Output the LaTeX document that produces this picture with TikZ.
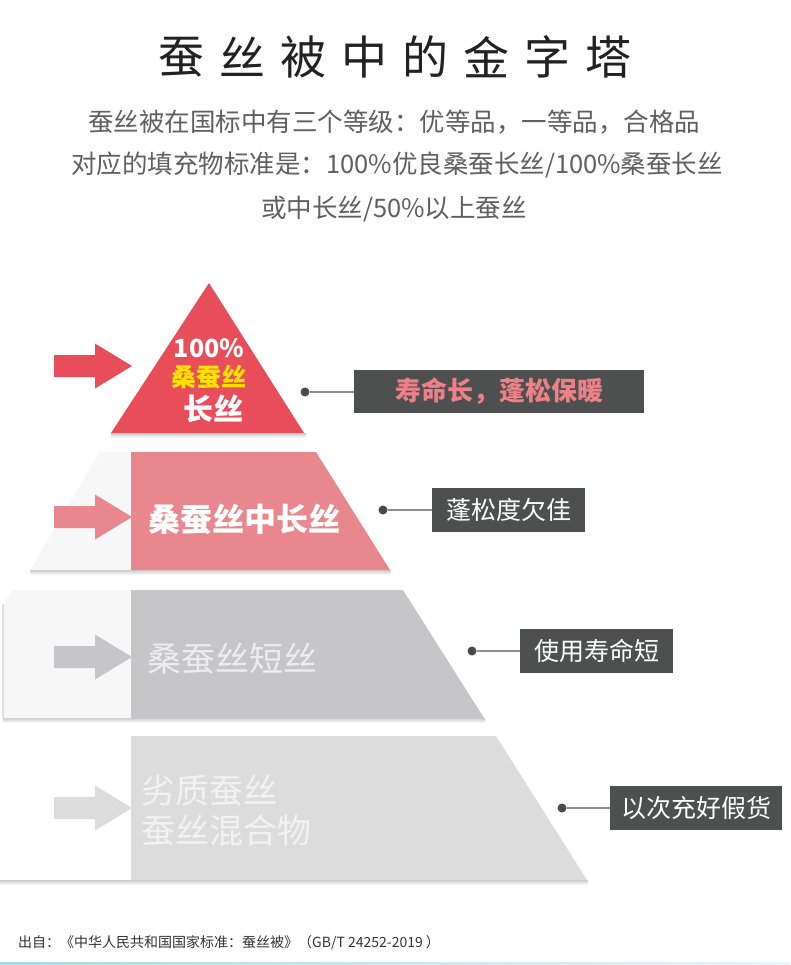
\documentclass[tikz,border=0pt]{standalone}
\usepackage{fontspec}
\setmainfont{Noto Sans CJK SC}
\definecolor{titlecol}{HTML}{222222}
\definecolor{subcol}{HTML}{606060}
\definecolor{redtri}{HTML}{E84E5A}
\definecolor{pinklev}{HTML}{E8878D}
\definecolor{graylev}{HTML}{C6C6C8}
\definecolor{lgraylev}{HTML}{DCDCDC}
\definecolor{lightbg}{HTML}{F7F7F7}
\definecolor{boxgray}{HTML}{4E4F4F}
\definecolor{dotgray}{HTML}{4A4A4A}
\definecolor{linegray}{HTML}{8E8E8E}
\definecolor{pinktext}{HTML}{EE8088}
\definecolor{yellowtext}{HTML}{FFE000}
\definecolor{barblue}{HTML}{A9D9E8}
\definecolor{foot}{HTML}{333333}
\newcommand\pyrarrow[2]{\fill[#1] (54,{#2-11}) -- (95,{#2-11}) -- (95,{#2-22.5}) -- (132,#2) -- (95,{#2+22.5}) -- (95,{#2+11}) -- (54,{#2+11}) -- cycle;}
\newcommand\pshadow[3]{\shade[top color=black!20, bottom color=white] (#1,#3) rectangle (#2,{#3+5});}
\begin{document}
\begin{tikzpicture}[x=1pt,y=-1pt,
  box/.style={fill=boxgray, inner sep=0pt, minimum height=43pt, text=white, font=\fontsize{25}{28}\selectfont},
  dotnode/.style={circle, fill=dotgray, inner sep=0pt, minimum size=9pt},
  conn/.style={draw=linegray, line width=1.6pt},
  levtext/.style={inner sep=0pt, anchor=west, align=left},
  subtxt/.style={text=subcol, font=\fontsize{25.5}{30}\selectfont, inner sep=0pt}]
\useasboundingbox (0,0) rectangle (790,965);
\fill[white] (0,0) rectangle (790,965);
% title
\foreach \c [count=\i from 0] in {蚕,丝,被,中,的,金,字,塔}
  \node[text=titlecol, font=\fontsize{46}{50}\selectfont, inner sep=0pt] (t\i) at ({181+61.1*\i},57) {\c};
% subtitle
\node[subtxt] (s1) at (394,122) {蚕丝被在国标中有三个等级：优等品，一等品，合格品};
\node[subtxt] (s2) at (397,165) {对应的填充物标准是：100\%优良桑蚕长丝/100\%桑蚕长丝};
\node[subtxt] (s3) at (394,209) {或中长丝/50\%以上蚕丝};
% level 1
\pshadow{111}{306}{433}
\fill[redtri] (209,283) -- (304,433) -- (111,433) -- cycle;
\pyrarrow{redtri}{366}
\node[text=white, font=\bfseries\fontsize{25}{28}\selectfont, inner sep=0pt] (l1a) at (209,348) {100\%};
\node[text=yellowtext, font=\bfseries\fontsize{25}{28}\selectfont, inner sep=0pt] (l1b) at (209,377) {桑蚕丝};
\node[text=white, font=\bfseries\fontsize{30}{32}\selectfont, inner sep=0pt] (l1c) at (213,409) {长丝};
% level 2
\pshadow{30}{391}{570}
\fill[lightbg] (100,452) -- (131,452) -- (131,570) -- (30,570) -- cycle;
\fill[pinklev] (131,452) -- (316,452) -- (390,570) -- (131,570) -- cycle;
\pyrarrow{pinklev}{517}
\node[levtext, text=white, font=\bfseries\fontsize{32}{34}\selectfont] (l2) at (148,519) {桑蚕丝中长丝};
% level 3
\pshadow{3}{485}{718}
\fill[lightbg] (13,590) -- (131,590) -- (131,718) -- (3,718) -- (3,604) -- cycle;
\draw[black!12, line width=1.5pt] (3,604) -- (3,718);
\fill[graylev] (131,590) -- (403,590) -- (484,718) -- (131,718) -- cycle;
\pyrarrow{graylev}{657}
\node[levtext, text=white!93!black, font=\fontsize{34}{36}\selectfont] (l3) at (147,659) {桑蚕丝短丝};
% level 4
\pshadow{0}{588}{880}
\fill[lgraylev] (131,736) -- (496,736) -- (587,880) -- (131,880) -- cycle;
\pyrarrow{lgraylev}{808}
\node[levtext, text=white!95!black, font=\fontsize{34}{40}\selectfont] (l4a) at (141,791) {劣质蚕丝};
\node[levtext, text=white!95!black, font=\fontsize{34}{40}\selectfont] (l4b) at (141,831) {蚕丝混合物};
% callouts
\node[box, minimum width=290pt, text=pinktext, font=\bfseries\fontsize{26}{28}\selectfont] (c1) at (499,391.5) {寿命长，蓬松保暖};
\node[box, minimum width=153pt, minimum height=44pt] (c2) at (508.5,510) {蓬松度欠佳};
\node[box, minimum width=153pt, minimum height=44pt] (c3) at (596.5,651) {使用寿命短};
\node[box, minimum width=172pt, minimum height=44pt] (c4) at (696,808) {以次充好假货};
\node[dotnode] (d1) at (305,392) {};
\node[dotnode] (d2) at (383,510) {};
\node[dotnode] (d3) at (472,651) {};
\node[dotnode] (d4) at (562,808) {};
\draw[conn] (d1) -- (d1 -| c1.west);
\draw[conn] (d2) -- (d2 -| c2.west);
\draw[conn] (d3) -- (d3 -| c3.west);
\draw[conn] (d4) -- (d4 -| c4.west);
% footer
\node[anchor=west, inner sep=0pt, text=foot, font=\fontsize{14}{16}\selectfont] (ft) at (18,943) {出自：《中华人民共和国国家标准：蚕丝被》（GB/T 24252-2019 ）};
\shade[left color=barblue, right color=barblue!25] (0,962) rectangle (790,965);
\end{tikzpicture}
\end{document}
